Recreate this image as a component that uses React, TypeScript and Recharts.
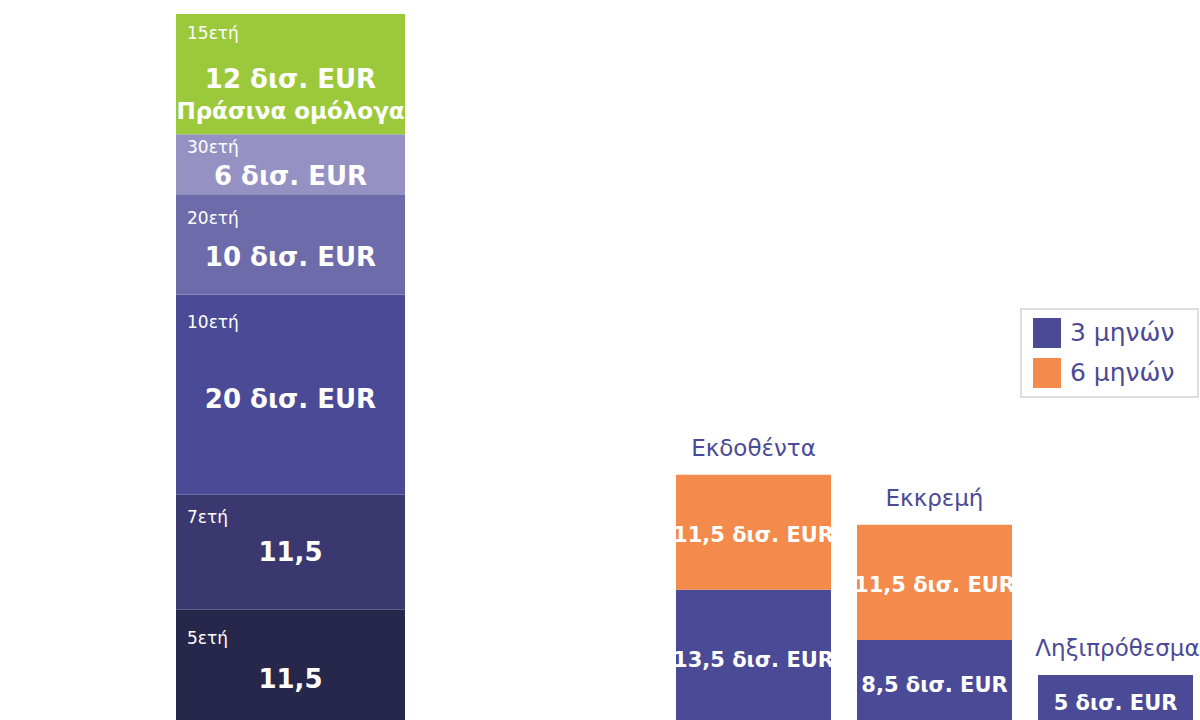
import React from "react"
import { Bar, BarChart, LabelList, Legend, XAxis, YAxis } from "recharts"

// Bonds issued by maturity (bottom to top)
const maturityKeys = ["5ετή", "7ετή", "10ετή", "20ετή", "30ετή", "15ετή"]
const maturityValues = [11.5, 11.5, 20, 10, 6, 12]
const maturityLabels = ["11,5", "11,5", "20 δισ. EUR", "10 δισ. EUR", "6 δισ. EUR", "12 δισ. EUR"]
const greenBondLabel = "Πράσινα ομόλογα"

// Bills
const billCategories = ["Εκδοθέντα", "Εκκρεμή", "Ληξιπρόθεσμα"]
const bills3m = [13.5, 8.5, 5]
const bills6m = [11.5, 11.5, 0]
const bills3mLabels = ["13,5 δισ. EUR", "8,5 δισ. EUR", "5 δισ. EUR"]
const bills6mLabels = ["11,5 δισ. EUR", "11,5 δισ. EUR", ""]
const billSeries = ["3 μηνών", "6 μηνών"]

const maturityColors = ["#27264b", "#3b3870", "#4b4a96", "#6e6baa", "#9592c3", "#9bc93b"]
const tagDy = [28, 22, 28, 24, 13, 19]
const valueDy = [12, 0, 4, 13, 12, 5]

const PURPLE = "#4b4a96"
const ORANGE = "#f48a4b"
const FONT = "'DejaVu Sans', sans-serif"
const Y_DOMAIN: [number, number] = [0, 71]
const CHART_H = 740
const MARGIN = { top: 14, bottom: 15, left: 0, right: 0 }

const bondData = [
  maturityKeys.reduce((row: Record<string, any>, k, i) => {
    row[k] = maturityValues[i]
    return row
  }, { name: "Ομόλογα" }),
]

const billData = billCategories.map((name, i) => ({
  name,
  m3: bills3m[i],
  m6: bills6m[i],
}))

const segmentLabel = (i: number) => (props: any) => {
  const x = Number(props.x)
  const y = Number(props.y)
  const w = Number(props.width)
  const h = Number(props.height)
  const cx = x + w / 2
  const cy = y + h / 2 + valueDy[i]
  const isGreen = maturityKeys[i] === "15ετή"
  return (
    <g fontFamily={FONT} fill="#fff">
      <text x={x + 11} y={y + tagDy[i]} fontSize={17} dominantBaseline="central">
        {maturityKeys[i]}
      </text>
      <text x={cx} y={cy} fontSize={26} fontWeight="bold" textAnchor="middle" dominantBaseline="central">
        {maturityLabels[i]}
      </text>
      {isGreen && (
        <text x={cx} y={cy + 32} fontSize={23} fontWeight="bold" textAnchor="middle" dominantBaseline="central">
          {greenBondLabel}
        </text>
      )}
    </g>
  )
}

const billValueLabel = (labels: string[]) => (props: any) => {
  const text = labels[props.index]
  if (!text) return null
  const x = Number(props.x)
  const y = Number(props.y)
  const w = Number(props.width)
  const h = Number(props.height)
  return (
    <text
      x={x + w / 2}
      y={y + h / 2 + 3}
      fill="#fff"
      fontFamily={FONT}
      fontSize={21}
      fontWeight="bold"
      textAnchor="middle"
      dominantBaseline="central"
    >
      {text}
    </text>
  )
}

// category name sits above whichever segment is on top of the stack
const categoryLabel = (topSeries: "m3" | "m6") => (props: any) => {
  const i = props.index
  const onTop = bills6m[i] > 0 ? "m6" : "m3"
  if (onTop !== topSeries) return null
  const x = Number(props.x)
  const y = Number(props.y)
  const w = Number(props.width)
  return (
    <text
      x={x + w / 2 + (i === 2 ? 2 : 0)}
      y={y - 27}
      fill={PURPLE}
      fontFamily={FONT}
      fontSize={23}
      textAnchor="middle"
      dominantBaseline="central"
    >
      {billCategories[i]}
    </text>
  )
}

const renderLegend = (props: any) => {
  const items = props.payload || []
  return (
    <div
      style={{
        border: "2px solid #dddddd",
        background: "#fff",
        padding: "3px 0 3px 11px",
        fontFamily: FONT,
        width: 179,
        boxSizing: "border-box",
      }}
    >
      {items.map((it: any) => (
        <div key={it.value} style={{ display: "flex", alignItems: "center", height: 40 }}>
          <span style={{ width: 28, height: 30, background: it.color, display: "inline-block", marginRight: 9 }} />
          <span style={{ color: PURPLE, fontSize: 25, lineHeight: "30px" }}>{it.value}</span>
        </div>
      ))}
    </div>
  )
}

export default function App() {
  return (
    <div
      style={{
        position: "absolute",
        left: 0,
        top: 0,
        width: 1200,
        height: 720,
        overflow: "hidden",
        background: "#fff",
      }}
    >
      <div style={{ position: "absolute", left: 176, top: 0 }}>
        <BarChart width={229} height={CHART_H} data={bondData} margin={MARGIN} barCategoryGap={0}>
          <XAxis dataKey="name" hide />
          <YAxis hide domain={Y_DOMAIN} />
          {maturityKeys.map((k, i) => (
            <Bar key={k} dataKey={k} stackId="bonds" fill={maturityColors[i]} isAnimationActive={false}>
              <LabelList dataKey={k} content={segmentLabel(i)} />
            </Bar>
          ))}
        </BarChart>
      </div>
      <div style={{ position: "absolute", left: 663, top: 0 }}>
        <BarChart width={543} height={CHART_H} data={billData} margin={MARGIN} barCategoryGap={13}>
          <XAxis dataKey="name" hide />
          <YAxis hide domain={Y_DOMAIN} />
          <Legend
            layout="horizontal"
            align="center"
            verticalAlign="middle"
            content={renderLegend}
            wrapperStyle={{ left: 357, top: 308, width: 179 }}
          />
          <Bar dataKey="m3" name={billSeries[0]} stackId="bills" fill={PURPLE} isAnimationActive={false}>
            <LabelList dataKey="m3" content={billValueLabel(bills3mLabels)} />
            <LabelList dataKey="m3" content={categoryLabel("m3")} />
          </Bar>
          <Bar dataKey="m6" name={billSeries[1]} stackId="bills" fill={ORANGE} isAnimationActive={false}>
            <LabelList dataKey="m6" content={billValueLabel(bills6mLabels)} />
            <LabelList dataKey="m6" content={categoryLabel("m6")} />
          </Bar>
        </BarChart>
      </div>
    </div>
  )
}
